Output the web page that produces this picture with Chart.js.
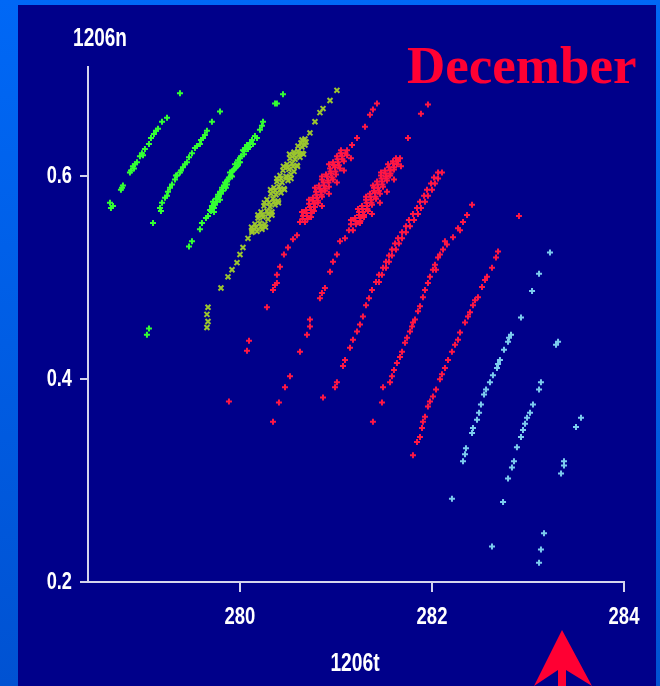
<!DOCTYPE html>
<html>
<head>
<meta charset="utf-8">
<script src="https://cdn.jsdelivr.net/npm/chart.js@4"></script>
<style>
  html, body { margin: 0; padding: 0; background: #0060e8; }
  canvas { display: block; }
</style>
</head>
<body>
<canvas id="chart" width="660" height="686"></canvas>
<script>
// Tick labels
const xTicks = [280, 282, 284];
const yTicks = [0.2, 0.4, 0.6];
const xTitle = '1206t';
const yTitle = '1206n';
const monthLabel = 'December';

// Green stripes (1206t, 1206n)
const greenA = [
    [278.646, 0.574], [278.656, 0.569], [278.760, 0.587], [278.781, 0.591], [278.854, 0.604],
    [278.885, 0.610], [278.896, 0.608], [278.927, 0.614], [278.979, 0.623], [278.990, 0.621],
    [279.052, 0.632], [279.073, 0.638], [279.104, 0.642], [279.146, 0.647], [279.188, 0.654],
    [279.240, 0.658], [279.375, 0.682], [279.052, 0.450], [279.031, 0.444],
    [278.677, 0.571], [278.771, 0.589], [278.865, 0.606], [278.906, 0.612], [278.958, 0.620],
    [279.010, 0.627], [279.125, 0.645]
];
const greenB = [
    [279.094, 0.554], [279.167, 0.569], [279.188, 0.574], [279.219, 0.579], [279.250, 0.585],
    [279.292, 0.592], [279.323, 0.597], [279.344, 0.601], [279.375, 0.604], [279.406, 0.609],
    [279.448, 0.614], [279.500, 0.623], [279.531, 0.628], [279.583, 0.632], [279.615, 0.638],
    [279.656, 0.645], [279.708, 0.654], [279.792, 0.664], [279.469, 0.531], [279.500, 0.536],
    [279.177, 0.566], [279.240, 0.581], [279.271, 0.589], [279.333, 0.601], [279.385, 0.606],
    [279.427, 0.612], [279.469, 0.619], [279.552, 0.630], [279.594, 0.636], [279.635, 0.641]
];
const greenC = [
    [279.583, 0.548], [279.604, 0.554], [279.646, 0.559], [279.688, 0.567], [279.708, 0.571],
    [279.719, 0.575], [279.729, 0.569], [279.750, 0.578], [279.771, 0.582], [279.781, 0.580],
    [279.792, 0.585], [279.813, 0.589], [279.833, 0.591], [279.844, 0.594], [279.865, 0.595],
    [279.885, 0.599], [279.896, 0.604], [279.917, 0.605], [279.927, 0.606], [279.948, 0.612],
    [279.958, 0.609], [279.979, 0.616], [279.990, 0.614], [280.000, 0.618], [280.031, 0.626],
    [280.052, 0.628], [280.073, 0.631], [280.104, 0.633], [280.125, 0.636], [280.177, 0.638],
    [280.208, 0.646], [280.240, 0.654], [280.365, 0.672], [280.385, 0.672], [280.448, 0.681],
    [279.729, 0.565], [279.792, 0.577], [279.854, 0.589], [279.917, 0.600], [279.979, 0.611],
    [280.042, 0.622], [280.083, 0.627],
    [279.667, 0.561], [279.698, 0.566], [279.740, 0.572], [279.760, 0.575], [279.802, 0.583],
    [279.823, 0.586], [279.865, 0.592], [279.875, 0.597], [279.906, 0.601], [279.938, 0.607],
    [279.969, 0.610], [280.000, 0.614], [280.010, 0.620], [280.042, 0.625], [280.094, 0.629],
    [280.135, 0.632], [280.156, 0.640], [280.229, 0.650]
];

// Olive stripe (x marks)
const olive = [
    [279.667, 0.471], [279.656, 0.464], [279.667, 0.457], [279.656, 0.451], [279.802, 0.490],
    [279.875, 0.501], [279.917, 0.508], [279.969, 0.515], [280.000, 0.523], [280.031, 0.530],
    [280.083, 0.539], [280.125, 0.545],
    [280.125, 0.547], [280.177, 0.546], [280.229, 0.548],
    [280.167, 0.550], [280.219, 0.551], [280.120, 0.550], [280.266, 0.550],
    [280.156, 0.553], [280.208, 0.554], [280.260, 0.553],
    [280.188, 0.559], [280.240, 0.560], [280.292, 0.558],
    [280.229, 0.562], [280.292, 0.563], [280.187, 0.562], [280.333, 0.562],
    [280.219, 0.565], [280.281, 0.566], [280.333, 0.565],
    [280.250, 0.571], [280.313, 0.570], [280.365, 0.572],
    [280.302, 0.574], [280.354, 0.575], [280.255, 0.574], [280.401, 0.574],
    [280.281, 0.577], [280.344, 0.578], [280.396, 0.576],
    [280.323, 0.583], [280.375, 0.582], [280.427, 0.584],
    [280.365, 0.586], [280.417, 0.587], [280.318, 0.587], [280.464, 0.587],
    [280.354, 0.589], [280.406, 0.590], [280.458, 0.588],
    [280.385, 0.595], [280.438, 0.594], [280.500, 0.596],
    [280.427, 0.598], [280.490, 0.599], [280.385, 0.598], [280.531, 0.598],
    [280.417, 0.601], [280.479, 0.600], [280.531, 0.602],
    [280.448, 0.606], [280.510, 0.607], [280.563, 0.605],
    [280.500, 0.609], [280.552, 0.610], [280.453, 0.610], [280.599, 0.610],
    [280.490, 0.612], [280.542, 0.613], [280.594, 0.611],
    [280.521, 0.618], [280.573, 0.617], [280.625, 0.619],
    [280.563, 0.621], [280.615, 0.622], [280.516, 0.622], [280.662, 0.622],
    [280.563, 0.624], [280.604, 0.625], [280.646, 0.623],
    [280.604, 0.630], [280.646, 0.629], [280.677, 0.631],
    [280.635, 0.633], [280.688, 0.634],
    [280.646, 0.636], [280.677, 0.637],
    [280.729, 0.643], [280.781, 0.654], [280.833, 0.663], [280.865, 0.667], [280.938, 0.675],
    [281.010, 0.685]
];

// Red stripes
const redA = [
    [281.427, 0.672], [281.385, 0.666], [281.354, 0.661], [281.302, 0.649], [281.219, 0.638],
    [281.167, 0.631],
    [281.052, 0.626], [281.115, 0.626],
    [281.010, 0.620], [281.063, 0.620], [281.115, 0.621], [281.156, 0.618],
    [280.969, 0.614], [281.021, 0.614], [281.083, 0.615], [280.927, 0.612],
    [280.938, 0.608], [280.990, 0.609], [281.042, 0.608], [281.083, 0.606],
    [280.896, 0.602], [280.948, 0.603], [281.000, 0.602], [280.854, 0.600],
    [280.854, 0.597], [280.917, 0.596], [280.969, 0.597], [281.010, 0.594],
    [280.823, 0.591], [280.875, 0.591], [280.927, 0.590], [280.781, 0.589],
    [280.792, 0.585], [280.844, 0.585], [280.885, 0.586], [280.927, 0.583],
    [280.760, 0.579], [280.802, 0.579], [280.854, 0.580], [280.719, 0.577],
    [280.719, 0.573], [280.771, 0.573], [280.813, 0.574], [280.854, 0.571],
    [280.688, 0.567], [280.740, 0.567], [280.771, 0.566], [280.646, 0.565],
    [280.656, 0.561], [280.698, 0.561], [280.740, 0.560],
    [280.625, 0.555], [280.677, 0.555],
    [281.047, 0.623], [281.099, 0.623], [281.016, 0.617], [281.068, 0.617],
    [280.979, 0.611], [281.031, 0.611], [280.943, 0.605], [280.995, 0.605],
    [280.906, 0.600], [280.958, 0.599], [280.870, 0.594], [280.922, 0.594],
    [280.833, 0.588], [280.885, 0.588], [280.797, 0.582], [280.849, 0.582],
    [280.760, 0.576], [280.812, 0.576], [280.729, 0.570], [280.781, 0.570],
    [280.693, 0.564], [280.745, 0.564], [280.651, 0.558], [280.703, 0.558],
    [280.594, 0.542], [280.552, 0.538], [280.500, 0.530], [280.458, 0.523], [280.417, 0.511],
    [280.385, 0.503], [280.385, 0.495], [280.365, 0.493], [280.344, 0.488], [280.281, 0.471],
    [280.094, 0.438], [280.073, 0.428], [279.885, 0.378]
];
const redB = [
    [281.750, 0.638], [281.885, 0.662], [281.958, 0.671],
    [281.625, 0.618], [281.667, 0.618],
    [281.542, 0.612], [281.594, 0.613], [281.635, 0.612], [281.677, 0.610],
    [281.510, 0.606], [281.563, 0.606], [281.604, 0.607], [281.469, 0.604],
    [281.469, 0.601], [281.521, 0.600], [281.563, 0.601], [281.604, 0.597],
    [281.427, 0.595], [281.479, 0.595], [281.531, 0.596], [281.385, 0.591],
    [281.396, 0.589], [281.438, 0.589], [281.490, 0.590], [281.531, 0.585],
    [281.354, 0.583], [281.406, 0.584], [281.458, 0.583], [281.313, 0.580],
    [281.313, 0.577], [281.365, 0.577], [281.417, 0.578], [281.458, 0.574],
    [281.271, 0.571], [281.323, 0.571], [281.375, 0.572], [281.229, 0.568],
    [281.240, 0.565], [281.281, 0.565], [281.333, 0.566], [281.375, 0.563],
    [281.198, 0.559], [281.250, 0.559], [281.292, 0.560], [281.156, 0.557],
    [281.156, 0.553], [281.208, 0.553], [281.250, 0.554],
    [281.135, 0.547], [281.177, 0.547],
    [281.594, 0.615], [281.646, 0.615], [281.552, 0.609], [281.604, 0.609],
    [281.516, 0.603], [281.568, 0.603], [281.474, 0.598], [281.526, 0.598],
    [281.432, 0.592], [281.484, 0.592], [281.396, 0.586], [281.448, 0.586],
    [281.359, 0.580], [281.411, 0.580], [281.318, 0.574], [281.370, 0.574],
    [281.276, 0.568], [281.328, 0.568], [281.240, 0.562], [281.292, 0.562],
    [281.203, 0.556], [281.255, 0.556],
    [281.094, 0.539], [281.042, 0.536], [281.010, 0.523], [280.969, 0.516], [280.938, 0.506],
    [280.885, 0.490], [280.854, 0.485], [280.833, 0.480], [280.729, 0.459], [280.729, 0.452],
    [280.698, 0.444], [280.625, 0.427], [280.521, 0.403], [280.469, 0.392], [280.406, 0.377],
    [280.344, 0.358]
];
const redC = [
    [282.063, 0.604], [282.104, 0.604], [282.021, 0.599], [282.063, 0.598],
    [281.990, 0.593], [282.031, 0.593], [281.948, 0.587], [282.000, 0.587],
    [281.917, 0.581], [281.958, 0.581], [281.875, 0.575], [281.927, 0.575],
    [281.844, 0.569], [281.885, 0.569], [281.802, 0.563], [281.854, 0.563],
    [281.760, 0.557], [281.813, 0.557], [281.729, 0.551], [281.771, 0.551],
    [281.688, 0.545], [281.729, 0.545], [281.646, 0.539], [281.688, 0.539],
    [281.615, 0.534], [281.656, 0.534], [281.583, 0.528], [281.625, 0.528],
    [281.552, 0.522], [281.583, 0.522], [281.521, 0.516], [281.552, 0.516],
    [281.490, 0.510], [281.521, 0.510], [281.448, 0.503], [281.479, 0.503],
    [281.417, 0.496], [281.448, 0.496],
    [281.375, 0.488], [281.344, 0.480], [281.313, 0.473], [281.281, 0.462], [281.250, 0.454],
    [281.219, 0.447], [281.177, 0.439], [281.146, 0.431], [281.094, 0.419], [281.073, 0.413],
    [281.010, 0.397], [280.990, 0.392], [280.865, 0.382]
];
const redD = [
    [282.417, 0.572], [282.365, 0.562], [282.323, 0.555], [282.271, 0.549], [282.292, 0.547],
    [282.219, 0.540], [282.156, 0.533], [282.135, 0.536], [282.115, 0.528], [282.083, 0.523],
    [282.063, 0.520], [282.031, 0.513], [282.042, 0.508], [282.010, 0.508], [281.979, 0.501],
    [281.958, 0.495], [281.927, 0.488], [281.906, 0.481], [281.875, 0.472], [281.854, 0.467],
    [281.823, 0.459], [281.802, 0.456], [281.792, 0.452], [281.771, 0.447], [281.740, 0.441],
    [281.719, 0.436], [281.688, 0.427], [281.667, 0.422], [281.635, 0.416], [281.604, 0.409],
    [281.583, 0.403], [281.563, 0.397], [281.490, 0.392], [281.479, 0.377], [281.385, 0.358]
];
const redE = [
    [282.906, 0.561], [282.688, 0.526], [282.667, 0.520], [282.625, 0.510], [282.573, 0.501],
    [282.552, 0.498], [282.521, 0.491], [282.479, 0.481], [282.448, 0.478], [282.427, 0.473],
    [282.396, 0.466], [282.375, 0.462], [282.344, 0.456], [282.292, 0.446], [282.271, 0.439],
    [282.240, 0.434], [282.208, 0.427], [282.167, 0.419], [282.135, 0.411], [282.104, 0.405],
    [282.083, 0.400], [282.042, 0.390], [282.010, 0.383], [281.979, 0.378], [281.958, 0.373],
    [281.927, 0.363], [281.906, 0.358], [281.896, 0.352], [281.875, 0.343], [281.844, 0.338],
    [281.802, 0.325]
];

// Light blue stripes
const blueA = [
    [283.229, 0.525], [283.115, 0.504], [283.042, 0.487], [282.927, 0.461], [282.823, 0.444],
    [282.802, 0.441], [282.792, 0.437], [282.750, 0.429], [282.708, 0.419], [282.688, 0.415],
    [282.677, 0.411], [282.635, 0.404], [282.604, 0.397], [282.563, 0.390], [282.542, 0.385],
    [282.510, 0.375], [282.490, 0.367], [282.469, 0.360], [282.427, 0.352], [282.417, 0.347],
    [282.354, 0.332], [282.344, 0.326], [282.323, 0.319], [282.208, 0.282]
];
const blueB = [
    [283.313, 0.437], [283.292, 0.434], [283.135, 0.397], [283.115, 0.390], [283.052, 0.375],
    [283.021, 0.367], [282.990, 0.362], [282.969, 0.356], [282.948, 0.350], [282.927, 0.343],
    [282.885, 0.333], [282.854, 0.319], [282.833, 0.313], [282.792, 0.302], [282.740, 0.279],
    [282.625, 0.235]
];
const blueC = [
    [283.552, 0.362], [283.500, 0.353], [283.375, 0.319], [283.375, 0.315], [283.344, 0.307],
    [283.167, 0.248], [283.135, 0.232], [283.115, 0.219]
];

const GREEN = '#33ff33';
const OLIVE = '#9cc62e';
const RED = '#ff1744';
const BLUE = '#7ccbee';
const AXIS = '#d4d4ec';
const SANS = "'Liberation Sans', Arial, sans-serif";

const toPoints = arr => arr.map(([x, y]) => ({ x: x, y: y }));

function crossSet(data, color) {
    return {
        data: toPoints(data),
        pointStyle: 'cross',
        pointRadius: 3,
        pointBorderWidth: 2,
        pointBorderColor: color,
        pointBackgroundColor: color,
        showLine: false
    };
}

// condensed bold text, like the narrow font of the original
function narrowText(c, text, x, y, align, squeeze) {
    c.save();
    c.translate(x, y);
    c.scale(squeeze, 1);
    c.textAlign = align;
    c.fillText(text, 0, 0);
    c.restore();
}

// Background panel, tick labels, titles and the arrow
const decor = {
    id: 'decor',
    beforeDraw(chart) {
        const c = chart.ctx;
        const g = c.createLinearGradient(0, 0, 0, 686);
        g.addColorStop(0, '#0068f6');
        g.addColorStop(1, '#0052d2');
        c.save();
        c.fillStyle = g;
        c.fillRect(0, 0, 660, 686);
        c.fillStyle = '#00008a';
        c.fillRect(18, 5, 638, 681);
        c.restore();
    },
    afterDraw(chart) {
        const c = chart.ctx;
        const sx = chart.scales.x;
        const sy = chart.scales.y;
        c.save();
        c.fillStyle = '#ffffff';
        c.font = 'bold 24px ' + SANS;
        c.textBaseline = 'middle';
        xTicks.forEach(v => narrowText(c, String(v), sx.getPixelForValue(v), 617, 'center', 0.77));
        yTicks.forEach(v => narrowText(c, v.toFixed(1), sy.right - 16, sy.getPixelForValue(v), 'right', 0.76));
        c.font = 'bold 26px ' + SANS;
        narrowText(c, yTitle, 100, 39, 'center', 0.73);
        narrowText(c, xTitle, 355, 664, 'center', 0.74);

        c.fillStyle = '#ff0033';
        c.font = "bold 53px 'Liberation Serif', 'DejaVu Serif', serif";
        c.textAlign = 'left';
        c.textBaseline = 'alphabetic';
        c.fillText(monthLabel, 407, 83);

        // red arrow pointing up at the bottom
        c.beginPath();
        c.moveTo(562, 630);
        c.lineTo(592, 686);
        c.lineTo(566, 670);
        c.lineTo(566, 686);
        c.lineTo(558, 686);
        c.lineTo(558, 670);
        c.lineTo(534, 686);
        c.closePath();
        c.fill();
        c.restore();
    }
};

new Chart(document.getElementById('chart'), {
    type: 'scatter',
    data: {
        datasets: [
            crossSet(greenA, GREEN),
            crossSet(greenB, GREEN),
            crossSet(greenC, GREEN),
            {
                data: toPoints(olive),
                pointStyle: 'crossRot',
                pointRadius: 3.5,
                pointBorderWidth: 2,
                pointBorderColor: OLIVE,
                pointBackgroundColor: OLIVE,
                showLine: false
            },
            crossSet(redA, RED),
            crossSet(redB, RED),
            crossSet(redC, RED),
            crossSet(redD, RED),
            crossSet(redE, RED),
            crossSet(blueA, BLUE),
            crossSet(blueB, BLUE),
            crossSet(blueC, BLUE)
        ]
    },
    options: {
        responsive: false,
        animation: false,
        events: [],
        layout: {
            padding: { left: 18, right: 36, top: 67, bottom: 64 }
        },
        plugins: {
            legend: { display: false },
            tooltip: { enabled: false }
        },
        scales: {
            x: {
                type: 'linear',
                min: 278.417,
                max: 284,
                afterBuildTicks: s => { s.ticks = xTicks.map(v => ({ value: v })); },
                afterFit: s => { s.height = 40; },
                border: { color: AXIS, width: 2 },
                grid: {
                    drawOnChartArea: false,
                    tickLength: 10,
                    color: AXIS,
                    lineWidth: 2
                },
                ticks: { display: false }
            },
            y: {
                type: 'linear',
                min: 0.2,
                max: 0.708,
                afterBuildTicks: s => { s.ticks = yTicks.map(v => ({ value: v })); },
                afterFit: s => { s.width = 70; },
                border: { color: AXIS, width: 2 },
                grid: {
                    drawOnChartArea: false,
                    tickLength: 8,
                    color: AXIS,
                    lineWidth: 2
                },
                ticks: { display: false }
            }
        }
    },
    plugins: [decor]
});
</script>
</body>
</html>
